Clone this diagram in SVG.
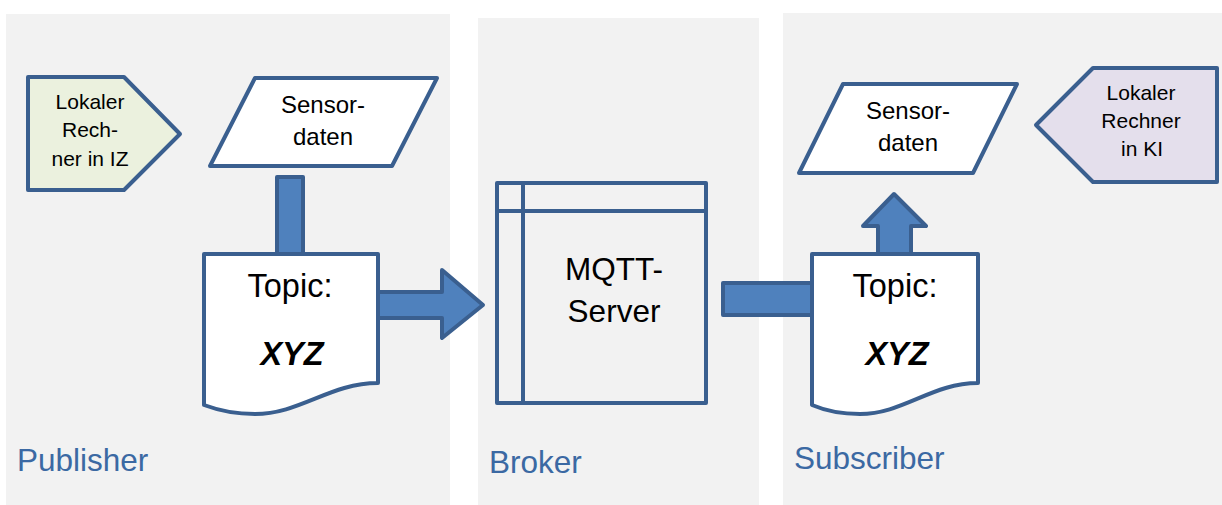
<svg xmlns="http://www.w3.org/2000/svg" width="1222" height="505" viewBox="0 0 1222 505">
<style>
.panel{fill:#f2f2f2}
.shape{stroke:#3a5f8f;stroke-width:4;stroke-linejoin:round}
.arrow{fill:#4f81bd;stroke:#3a5f8f;stroke-width:4;stroke-linejoin:round}
text{font-family:"Liberation Sans",Arial,sans-serif;fill:#000;text-anchor:middle}
.lbl{fill:#3b69a3;font-size:31.5px;text-anchor:start}
.small{font-size:21px}
.mid{font-size:24px}
.big{font-size:32.5px}
.srv{font-size:31.5px}
</style>
<rect width="1222" height="505" fill="#ffffff"/>
<g id="publisher-panel">
<rect class="panel" x="6" y="14" width="444" height="491"/>
<text class="lbl" x="17" y="471">Publisher</text>
</g>
<g id="broker-panel">
<rect class="panel" x="478" y="18" width="281" height="487"/>
<text class="lbl" x="489" y="473">Broker</text>
</g>
<g id="subscriber-panel">
<rect class="panel" x="783" y="13" width="439" height="492"/>
<text class="lbl" x="794" y="469">Subscriber</text>
</g>
<g id="connectors">
<rect class="arrow" x="277" y="177" width="26" height="80"/>
<path class="arrow" d="M376,292 H442 V270 L483,305 L442,338 V318 H376 Z"/>
<rect class="arrow" x="723" y="283" width="92" height="32"/>
<path class="arrow" d="M878,257 V226 H863 L894,194 L926,226 H911 V257 Z"/>
</g>
<g id="pub-rechner">
<path class="shape" fill="#ebf1de" d="M28,77 H124 L180,134 L124,190 H28 Z"/>
<text class="small" x="90" y="109">Lokaler</text>
<text class="small" x="90" y="137">Rech-</text>
<text class="small" x="90" y="166">ner in IZ</text>
</g>
<g id="pub-sensordaten">
<path class="shape" fill="#ffffff" d="M255,78 H437 L392,166 H210 Z"/>
<text class="mid" x="323" y="113">Sensor-</text>
<text class="mid" x="323" y="145">daten</text>
</g>
<g id="pub-topic">
<path class="shape" fill="#ffffff" d="M204,254 H378 V383 C330,383 300,414 255,414 C235,414 220,411 204,405 Z"/>
<text class="big" x="290" y="297">Topic:</text>
<text class="big" x="292" y="365" font-weight="bold" font-style="italic">XYZ</text>
</g>
<g id="mqtt-server">
<rect class="shape" fill="#f2f2f2" x="497" y="183" width="209" height="220"/>
<line class="shape" x1="497" y1="211" x2="706" y2="211"/>
<line class="shape" x1="523" y1="183" x2="523" y2="403"/>
<text class="srv" x="614" y="280">MQTT-</text>
<text class="srv" x="614" y="322">Server</text>
</g>
<g id="sub-topic">
<path class="shape" fill="#ffffff" d="M812,254 H978 V383 C932,383 903,414 860,414 C840,414 826,411 812,405 Z"/>
<text class="big" x="895" y="297">Topic:</text>
<text class="big" x="897" y="365" font-weight="bold" font-style="italic">XYZ</text>
</g>
<g id="sub-sensordaten">
<path class="shape" fill="#ffffff" d="M843,84 H1017 L973,173 H799 Z"/>
<text class="mid" x="908" y="119">Sensor-</text>
<text class="mid" x="908" y="151">daten</text>
</g>
<g id="sub-rechner">
<path class="shape" fill="#e4dfec" d="M1036,125 L1093,68 H1217 V182 H1093 Z"/>
<text class="small" x="1141" y="100">Lokaler</text>
<text class="small" x="1141" y="128">Rechner</text>
<text class="small" x="1142" y="156">in KI</text>
</g>
</svg>
